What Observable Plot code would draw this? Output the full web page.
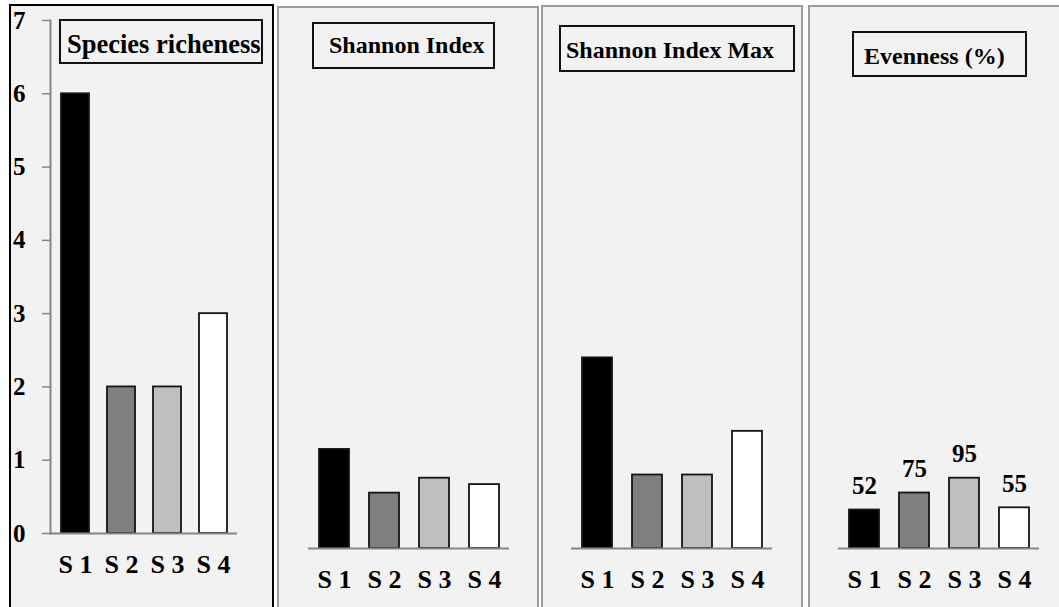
<!DOCTYPE html>
<html><head><meta charset="utf-8">
<script src="https://cdn.jsdelivr.net/npm/d3@7"></script>
<script src="https://cdn.jsdelivr.net/npm/@observablehq/plot@0.6"></script>
<style>
html,body{margin:0;padding:0;background:#fff;}
#page{position:relative;width:1059px;height:607px;overflow:hidden;background:#fff;font-family:"Liberation Serif","Times New Roman",serif;font-weight:bold;}
.panel{position:absolute;box-sizing:border-box;background:#f2f2f2;}
.tbox{position:absolute;box-sizing:border-box;border:2px solid #111;}
.ttext{position:absolute;white-space:nowrap;line-height:1;color:#000;}
.layer{position:absolute;left:0;top:0;}
</style></head><body><div id="page"></div>
<script>
// ---- data ----
const sites = ["S 1", "S 2", "S 3", "S 4"];
const siteFills = ["#000000", "#7f7f7f", "#bfbfbf", "#ffffff"];
const richness = [6, 2, 2, 3];
const shannon = [0.93, 0.52, 0.66, 0.60];
const shannonMax = [1.79, 0.69, 0.69, 1.10];
const evenness = [52, 75, 95, 55];
const titles = ["Species richeness", "Shannon Index", "Shannon Index Max", "Evenness (%)"];
const richnessTicks = [0, 1, 2, 3, 4, 5, 6, 7];

// ---- layout ----
const W = 1059, H = 607;
const page = document.getElementById("page");
const panelBoxes = [
  {left: 9, top: 4, width: 265, border: "2px solid #000"},
  {left: 277, top: 6, width: 262, border: "2px solid #9c9c9c"},
  {left: 541, top: 5, width: 262, border: "2px solid #9c9c9c"},
  {left: 808, top: 5, width: 300, border: "2px solid #9c9c9c"}
];
const titleBoxes = [
  {left: 59, top: 19, width: 204, height: 45, tx: 67, baseline: 53.3, size: 26.5},
  {left: 312, top: 22, width: 183, height: 47, tx: 329, baseline: 53.3, size: 24},
  {left: 559, top: 25, width: 236, height: 47, tx: 566, baseline: 58.3, size: 24},
  {left: 852, top: 31, width: 175, height: 46, tx: 864, baseline: 64, size: 24}
];
const frames = [
  {left: 50, right: 237, top: 20, bottom: 533, domain: [0, 7]},
  {left: 308, right: 509, top: 122, bottom: 548, domain: [0, 4]},
  {left: 571, right: 772, top: 122, bottom: 548, domain: [0, 4]},
  {left: 838, right: 1039, top: 474, bottom: 548, domain: [0, 100]}
];
const seriesList = [richness, shannon, shannonMax, evenness];

panelBoxes.forEach(p => {
  const d = document.createElement("div");
  d.className = "panel";
  Object.assign(d.style, {left: p.left + "px", top: p.top + "px", width: p.width + "px", height: "700px", border: p.border});
  page.appendChild(d);
});

function panelPlot(k) {
  const f = frames[k];
  const rows = sites.map((s, i) => ({site: s, value: seriesList[k][i], fill: siteFills[i]}));
  const marks = [
    Plot.barY(rows, {x: "site", y: "value", fill: "fill", stroke: "#141414", strokeWidth: 1.8}),
    Plot.ruleY([0], {stroke: "#858585", strokeWidth: 2}),
    Plot.axisX({tickSize: 0, tickPadding: 21.5, fontSize: 26, label: null})
  ];
  if (k === 0) {
    marks.push(Plot.frame({anchor: "left", stroke: "#858585", strokeWidth: 2}));
    marks.push(Plot.axisY(richnessTicks, {tickSize: 8, tickPadding: 17, stroke: "#858585", strokeWidth: 1.5, fontSize: 25, tickFormat: d => String(d), label: null}));
  }
  if (k === 3) {
    marks.push(Plot.text(rows, {x: "site", y: "value", text: d => String(d.value), dy: -16, lineAnchor: "bottom", fontSize: 25}));
  }
  return Plot.plot({
    width: W, height: H,
    marginLeft: f.left, marginRight: W - f.right, marginTop: f.top, marginBottom: H - f.bottom,
    x: {domain: sites, paddingInner: 0.4, paddingOuter: 0.2, label: null},
    y: {domain: f.domain, label: null, axis: k === 0 ? undefined : null},
    color: {type: "identity"},
    style: {background: "transparent", fontFamily: "'Liberation Serif', 'Times New Roman', serif", fontWeight: "bold", fontSize: "24px", color: "#000", overflow: "visible"},
    marks
  });
}

for (let k = 0; k < 4; k++) {
  const svg = panelPlot(k);
  svg.classList.add("layer");
  svg.style.position = "absolute";
  svg.style.left = "0px";
  svg.style.top = "0px";
  page.appendChild(svg);
}

titleBoxes.forEach((t, k) => {
  const b = document.createElement("div");
  b.className = "tbox";
  Object.assign(b.style, {left: t.left + "px", top: t.top + "px", width: t.width + "px", height: t.height + "px"});
  page.appendChild(b);
  const s = document.createElement("div");
  s.className = "ttext";
  s.textContent = titles[k];
  Object.assign(s.style, {left: t.tx + "px", top: (t.baseline - 0.8375 * t.size) + "px", fontSize: t.size + "px"});
  page.appendChild(s);
});
</script></body></html>
